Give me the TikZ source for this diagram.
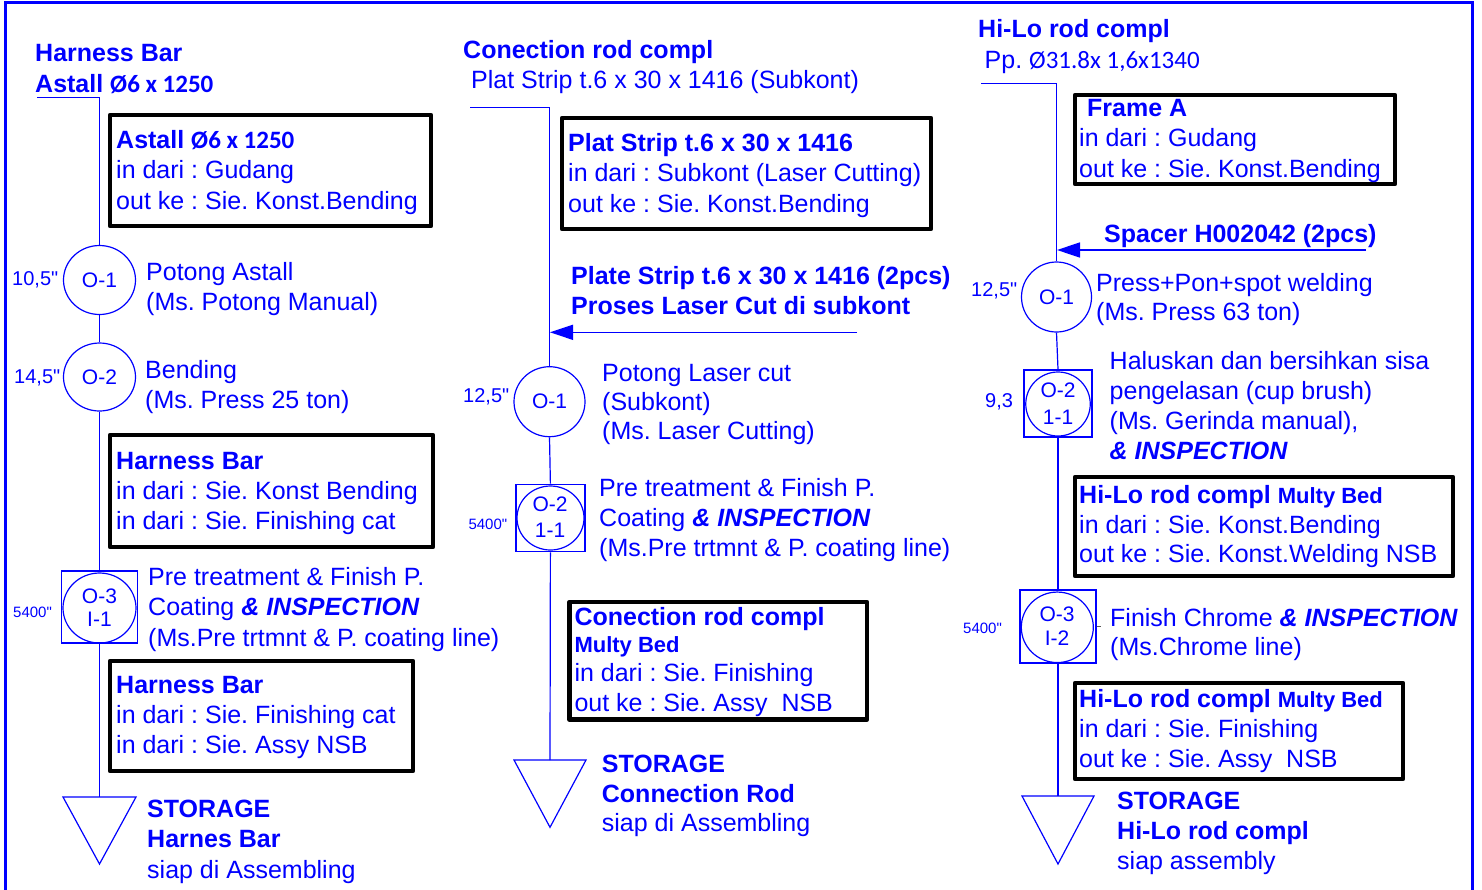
\documentclass[tikz,border=0pt]{standalone}
\usepackage{fontspec}
\setmainfont{Liberation Sans}
\newfontfamily\carl{Carlito}
\newfontfamily\plainf{Liberation Sans}
\usetikzlibrary{shapes.geometric,arrows.meta}
\definecolor{fblue}{RGB}{0,0,255}
\newcommand{\ml}[1]{\begin{tabular}[t]{@{}l@{}}#1\end{tabular}}
\newcommand{\mc}[1]{\begin{tabular}[t]{@{}c@{}}#1\end{tabular}}
\newcommand{\insp}{{\bfseries\itshape \& INSPECTION}}
\newcommand{\multy}{{\fontsize{22}{26}\selectfont\bfseries Multy Bed}}
\frenchspacing
\begin{document}
\frenchspacing
\begin{tikzpicture}[x=1pt,y=-1pt,
  txt/.style={anchor=base west, inner sep=0pt, text=fblue, font=\fontsize{25}{#1}\selectfont},
  txt/.default=30,
  lblw/.style={anchor=base west, inner sep=0pt, text=fblue, font=\plainf\fontsize{20}{24}\selectfont},
  smalllbl/.style={anchor=base west, inner sep=0pt, text=fblue, font=\plainf\fontsize{15}{18}\selectfont},
  symlbl/.style={anchor=base, inner sep=0pt, text=fblue, font=\fontsize{21}{#1}\selectfont},
  opn/.style={ellipse, draw=fblue, line width=1.2pt, inner sep=0pt, text=fblue, font=\fontsize{21}{24}\selectfont},
  sqn/.style={rectangle, draw=fblue, line width=1.4pt, inner sep=0pt},
  flow/.style={draw=fblue, line width=1.2pt},
  arr/.style={draw=fblue, line width=1.6pt, -{Triangle[length=23pt,width=15pt]}},
  boxb/.style={rectangle, draw=black, line width=4.5pt, line join=round, inner sep=0pt}]
\useasboundingbox (0,0) rectangle (1482,889);
% frame
\draw[fblue, line width=3pt] (5,895) -- (5,2) -- (1472,2) -- (1472,895);

% ================= LEFT COLUMN =================
\node[txt=31] (h1) at (35,61) {\ml{\textbf{Harness Bar}\\\textbf{Astall {\carl Ø6 x 1250}}}};
\coordinate (h1s) at (37,97.5);
\coordinate (h1c) at (99.5,97.5);
\node[boxb, minimum width=321, minimum height=111] (b1) at (270.5,170.5) {};
\node[txt=30.5] (b1t) at (116,148) {\ml{\textbf{Astall {\carl Ø6 x 1250}}\\in dari : Gudang\\out ke : Sie. Konst.Bending}};
\node[opn, minimum width=72, minimum height=69] (o11) at (99.5,280) {O-1};
\node[lblw] (n11) at (12,285) {10,5"};
\node[txt=30] (t11) at (146,280) {\ml{Potong Astall\\(Ms. Potong Manual)}};
\node[opn, minimum width=72, minimum height=68] (o12) at (99.5,377) {O-2};
\node[lblw] (n12) at (14,383) {14,5"};
\node[txt=30] (t12) at (145,378) {\ml{Bending\\(Ms. Press 25 ton)}};
\node[boxb, minimum width=323, minimum height=112] (b2) at (271.5,491) {};
\node[txt=30] (b2t) at (116,469) {\ml{\textbf{Harness Bar}\\in dari : Sie. Konst Bending\\in dari : Sie. Finishing cat}};
\node[sqn, minimum width=76, minimum height=72] (sq13) at (99.5,607) {};
\node[opn, minimum width=73, minimum height=70] (e13) at (99.5,608) {};
\node[symlbl=23.5] (l13) at (99.5,603) {\mc{O-3\\I-1}};
\node[smalllbl] (n13) at (13,617.5) {5400"};
\node[txt=30.5] (t13) at (148,585) {\ml{Pre treatment \& Finish P.\\Coating \insp\\(Ms.Pre trtmnt \& P. coating line)}};
\node[boxb, minimum width=303, minimum height=110] (b3) at (261.5,716) {};
\node[txt=30] (b3t) at (116,693.5) {\ml{\textbf{Harness Bar}\\in dari : Sie. Finishing cat\\in dari : Sie. Assy NSB}};
\coordinate (t1) at (99.5,797);
\draw[flow] (t1) ++(-36.5,0) -- ++(73,0) -- ++(-36.5,67) -- cycle;
\node[txt=30.5] (s1) at (147,817) {\ml{\textbf{STORAGE}\\\textbf{Harnes Bar}\\siap di Assembling}};
\draw[flow] (h1s) -- (h1c) -- (o11.north);
\draw[flow] (o11.south) -- (o12.north);
\draw[flow] (o12.south) -- (sq13.north);
\draw[flow] (sq13.south) -- (t1);

% ================= CENTER COLUMN =================
\node[txt] (h2) at (463,58.5) {\textbf{Conection rod compl}};
\node[txt] (h2b) at (471,88.5) {Plat Strip t.6 x 30 x 1416 (Subkont)};
\coordinate (h2s) at (470,107.3);
\coordinate (h2c) at (549.5,107.3);
\node[boxb, minimum width=369, minimum height=111] (b4) at (746.5,173.5) {};
\node[txt=30.5] (b4t) at (568,151) {\ml{\textbf{Plat Strip t.6 x 30 x 1416}\\in dari : Subkont (Laser Cutting)\\out ke : Sie. Konst.Bending}};
\node[txt=30] (a1t) at (571,284.5) {\ml{\textbf{Plate Strip t.6 x 30 x 1416 (2pcs)}\\\textbf{Proses Laser Cut di subkont}}};
\coordinate (a1s) at (857,332.3);
\coordinate (a1e) at (550,332.3);
\node[opn, minimum width=71, minimum height=70] (o21) at (549.5,401.7) {O-1};
\node[lblw] (n21) at (463,402) {12,5"};
\node[txt=29] (t21) at (602,381.7) {\ml{Potong Laser cut\\(Subkont)\\(Ms. Laser Cutting)}};
\node[sqn, minimum width=69, minimum height=67.4] (sq22) at (550.4,518) {};
\node[opn, minimum width=67, minimum height=64] (e22) at (550.5,518) {};
\node[symlbl=26.3] (l22) at (550,511) {\mc{O-2\\1-1}};
\node[smalllbl] (n22) at (468.3,529.3) {5400"};
\node[txt=30] (t22) at (599,496.7) {\ml{Pre treatment \& Finish P.\\Coating \insp\\(Ms.Pre trtmnt \& P. coating line)}};
\node[boxb, minimum width=297.5, minimum height=117.5] (b5) at (718.25,660.75) {};
\node[txt=27.7] (b5t) at (574.3,625) {\ml{\textbf{Conection rod compl}\\\multy\\[1.3pt]in dari : Sie. Finishing\\[2.3pt]out ke : Sie. Assy\ \ NSB}};
\coordinate (t2) at (550,760);
\draw[flow] (t2) ++(-36,0) -- ++(72,0) -- ++(-36,67.3) -- cycle;
\node[txt=29.5] (s2) at (601.7,772.7) {\ml{\textbf{STORAGE}\\\textbf{Connection Rod}\\siap di Assembling}};
\draw[flow] (h2s) -- (h2c) -- (o21.north);
\draw[flow] (o21.south) -- (sq22.north);
\draw[flow] (sq22.south) -- (t2);
\draw[arr] (a1s) -- (a1e);

% ================= RIGHT COLUMN =================
\node[txt] (h3) at (978,37) {\textbf{Hi-Lo rod compl}};
\node[txt] (h3b) at (984.5,68.4) {Pp. {\carl Ø31.8x 1,6x1340}};
\coordinate (h3s) at (981,83.5);
\coordinate (h3c) at (1056.5,83.5);
\node[boxb, minimum width=320, minimum height=89] (b6) at (1235,139.5) {};
\node[txt=30.3] (b6t) at (1079,116.5) {\ml{\hspace*{8pt}\textbf{Frame A}\\in dari : Gudang\\out ke : Sie. Konst.Bending}};
\node[txt] (a2t) at (1104,242) {\textbf{Spacer H002042 (2pcs)}};
\coordinate (a2s) at (1366,250);
\coordinate (a2e) at (1057,250);
\node[opn, minimum width=70, minimum height=70] (o31) at (1056.5,297) {O-1};
\node[lblw] (n31) at (971,296) {12,5"};
\node[txt=29.5] (t31) at (1096,291) {\ml{Press+Pon+spot welding\\(Ms. Press 63 ton)}};
\node[sqn, minimum width=68, minimum height=67] (sq32) at (1058,403.5) {};
\node[opn, minimum width=64.5, minimum height=64] (e32) at (1058,404) {};
\node[symlbl=27] (l32) at (1058,397) {\mc{O-2\\1-1}};
\node[lblw] (n32) at (985,407) {9,3};
\node[txt=30.3] (t32) at (1109.5,369) {\ml{Haluskan dan bersihkan sisa\\pengelasan (cup brush)\\(Ms. Gerinda manual),\\\insp}};
\node[boxb, minimum width=378, minimum height=99] (b7) at (1264,526.5) {};
\node[txt=29.7] (b7t) at (1079,503.5) {\ml{\textbf{Hi-Lo rod compl} \multy\\in dari : Sie. Konst.Bending\\out ke : Sie. Konst.Welding NSB}};
\node[sqn, minimum width=76, minimum height=73] (sq33) at (1058,626.5) {};
\node[opn, minimum width=72, minimum height=70.5] (e33) at (1057.3,627.3) {};
\node[symlbl=23.6] (l33) at (1057,621.6) {\mc{O-3\\I-2}};
\node[smalllbl] (n33) at (963,633.4) {5400"};
\draw[gray!70!black, line width=1pt] (sq33.east) -- ++(4,0);
\node[txt=29.5] (t33) at (1110,626) {\ml{Finish Chrome \insp\\(Ms.Chrome line)}};
\node[boxb, minimum width=328, minimum height=96] (b8) at (1239,731) {};
\node[txt=30] (b8t) at (1079,707.5) {\ml{\textbf{Hi-Lo rod compl} \multy\\in dari : Sie. Finishing\\out ke : Sie. Assy\ \ NSB}};
\coordinate (t3) at (1058,796);
\draw[flow] (t3) ++(-36,0) -- ++(72,0) -- ++(-36,68) -- cycle;
\node[txt=30] (s3) at (1117,809) {\ml{\textbf{STORAGE}\\\textbf{Hi-Lo rod compl}\\siap assembly}};
\draw[flow] (h3s) -- (h3c) -- (o31.north);
\draw[flow] (o31.south) -- (sq32.north);
\draw[flow] (sq32.south) -- (sq33.north);
\draw[flow] (sq33.south) -- (t3);
\draw[arr] (a2s) -- (a2e);
\end{tikzpicture}
\end{document}
